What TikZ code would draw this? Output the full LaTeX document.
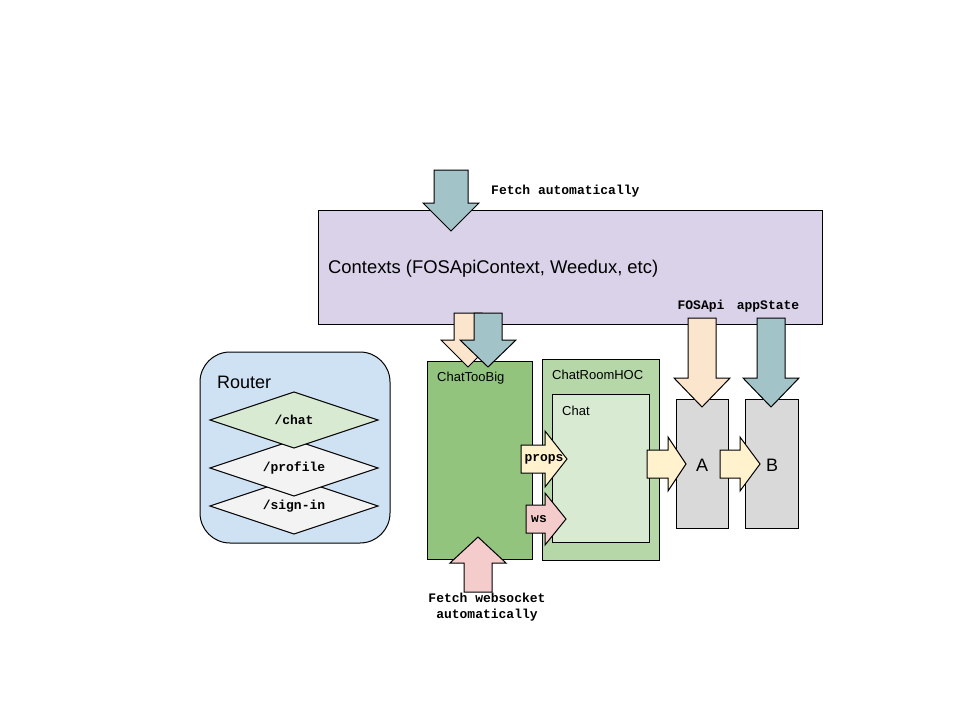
\documentclass[tikz,border=0pt]{standalone}
\usepackage{fontspec}
\setmainfont{Liberation Sans}
\setmonofont{Liberation Mono}
\usepackage{xcolor}
\definecolor{ctxpurple}{HTML}{D9D2E9}
\definecolor{teal}{HTML}{A2C4C9}
\definecolor{peach}{HTML}{FCE5CD}
\definecolor{darkgreen}{HTML}{93C47D}
\definecolor{midgreen}{HTML}{B6D7A8}
\definecolor{palegreen}{HTML}{D9EAD3}
\definecolor{paleyellow}{HTML}{FFF2CC}
\definecolor{palepink}{HTML}{F4CCCC}
\definecolor{boxgrey}{HTML}{D9D9D9}
\definecolor{paleblue}{HTML}{CFE2F3}
\definecolor{routegrey}{HTML}{F3F3F3}
\usepackage{tikz}
\usetikzlibrary{positioning}

\tikzset{
	box/.style={draw, line width=1pt, anchor=north west, inner sep=0pt},
	big/.style={font=\fontsize{18}{20}\selectfont},
	small/.style={font=\fontsize{13}{15}\selectfont},
	code/.style={font=\fontsize{13}{15}\selectfont\ttfamily\bfseries},
	fat/.style={draw, line width=1pt, line join=miter},
}
% block arrow, vertical: colour, x centre, start, head base, tip, shaft half, head half
\newcommand{\vfat}[7]{\filldraw[fat,fill=#1] (#2-#6,#3) -- (#2-#6,#4) -- (#2-#7,#4) -- (#2,#5) -- (#2+#7,#4) -- (#2+#6,#4) -- (#2+#6,#3) -- cycle;}
% block arrow, horizontal: colour, y centre, start, head base, tip, shaft half, head half
\newcommand{\hfat}[7]{\filldraw[fat,fill=#1] (#3,#2-#6) -- (#4,#2-#6) -- (#4,#2-#7) -- (#5,#2) -- (#4,#2+#7) -- (#4,#2+#6) -- (#3,#2+#6) -- cycle;}

\begin{document}
\begin{tikzpicture}[x=1pt,y=-1pt]
	\fill[white] (0,0) rectangle (960,720);
	
	%%% ROUTER
	\draw[fill=paleblue, line width=1pt, rounded corners=30pt] (200,352) rectangle (390,543);
	\node[big, anchor=west, inner sep=0pt] (router) at (217,382) {Router};
	\filldraw[fat, fill=routegrey] (294,478) -- (378,506) -- (294,534) -- (210,506) -- cycle;
	\node[code] (signin) at (294,506) {/sign-in};
	\filldraw[fat, fill=routegrey] (294,440) -- (378,468) -- (294,496) -- (210,468) -- cycle;
	\node[code] (profile) at (294,468) {/profile};
	\filldraw[fat, fill=palegreen] (294,392) -- (378,420) -- (294,448) -- (210,420) -- cycle;
	\node[code] (chatroute) at (294,420) {/chat};
	
	%%% CONTEXTS
	\node[box, fill=ctxpurple, minimum width=504pt, minimum height=114pt] (ctx) at (318,210) {};
	\node[anchor=west, inner sep=0pt, font=\fontsize{18.4}{20}\selectfont] (ctxtext) at (328,269) {Contexts (FOSApiContext, Weedux, etc)};
	\vfat{teal}{451}{170}{203}{231}{17}{28}
	\node[code, anchor=west, inner sep=0pt] (fetchctx) at (491,191) {Fetch automatically};
	
	%%% COMPONENTS
	\node[box, fill=darkgreen, minimum width=105pt, minimum height=198pt] (toobig) at (427,361) {};
	\node[small, anchor=west, inner sep=0pt] at (437,378) {ChatTooBig};
	\node[box, fill=midgreen, minimum width=117pt, minimum height=201pt] (hoc) at (542,359) {};
	\node[small, anchor=west, inner sep=0pt] at (552,375) {ChatRoomHOC};
	\node[box, fill=palegreen, minimum width=97pt, minimum height=148pt] (chat) at (552,394) {};
	\node[small, anchor=west, inner sep=0pt] at (562,411) {Chat};
	\node[box, fill=boxgrey, minimum width=52pt, minimum height=129pt] (boxa) at (676,399) {};
	\node[big] (alabel) at (702,465) {A};
	\node[box, fill=boxgrey, minimum width=53pt, minimum height=129pt] (boxb) at (745,399) {};
	\node[big] (blabel) at (772,465) {B};
	
	%%% ARROWS
	\vfat{peach}{468}{313}{340}{367}{14}{27}
	\vfat{teal}{488}{313}{340}{367}{14}{28}
	\vfat{peach}{702}{318}{378}{407}{14}{28}
	\vfat{teal}{771}{318}{378}{407}{14}{28}
	\node[code] (fosapi) at (701,306) {FOSApi};
	\node[code] (appstate) at (768,306) {appState};
	\vfat{palepink}{478}{592}{563}{537}{14}{28}
	\node[code, align=center, inner sep=0pt] (fetchws) at (487,607) {Fetch websocket\\[1pt]automatically};
	\hfat{paleyellow}{459}{521}{545}{567}{14}{28}
	\node[code] (props) at (544,459) {props};
	\hfat{palepink}{519}{526}{545}{566}{14}{26}
	\node[code] (ws) at (539,519) {ws};
	\hfat{paleyellow}{464}{647}{668}{686}{14}{27}
	\hfat{paleyellow}{464}{720}{740}{760}{14}{27}
\end{tikzpicture}
\end{document}
